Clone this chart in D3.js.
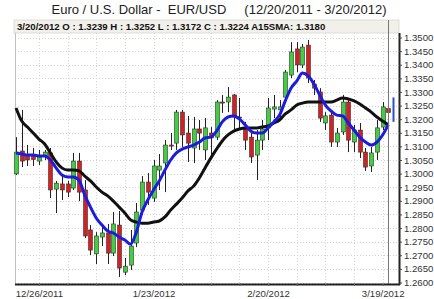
<!DOCTYPE html>
<html>
<head>
<meta charset="utf-8">
<script src="https://cdn.jsdelivr.net/npm/d3@7"></script>
<style>
    body { margin: 0; background: #fff; }
    svg { display: block; font-family: "Liberation Sans", Arial, sans-serif; }
</style>
</head>
<body>
<svg id="chart" width="434" height="299"></svg>
<script>
// --- Data ---
const dates = [
    "12/20/2011", "12/21/2011", "12/22/2011", "12/23/2011", "12/26/2011", "12/27/2011", "12/28/2011", "12/29/2011", "12/30/2011",
    "1/2/2012", "1/3/2012", "1/4/2012", "1/5/2012", "1/6/2012", "1/9/2012", "1/10/2012", "1/11/2012", "1/12/2012", "1/13/2012",
    "1/16/2012", "1/17/2012", "1/18/2012", "1/19/2012", "1/20/2012", "1/23/2012", "1/24/2012", "1/25/2012", "1/26/2012", "1/27/2012",
    "1/30/2012", "1/31/2012", "2/1/2012", "2/2/2012", "2/3/2012", "2/6/2012", "2/7/2012", "2/8/2012", "2/9/2012", "2/10/2012",
    "2/13/2012", "2/14/2012", "2/15/2012", "2/16/2012", "2/17/2012", "2/20/2012", "2/21/2012", "2/22/2012", "2/23/2012", "2/24/2012",
    "2/27/2012", "2/28/2012", "2/29/2012", "3/1/2012", "3/2/2012", "3/5/2012", "3/6/2012", "3/7/2012", "3/8/2012", "3/9/2012",
    "3/12/2012", "3/13/2012", "3/14/2012", "3/15/2012", "3/16/2012", "3/19/2012", "3/20/2012"
];

const opens = [
    1.2999, 1.3083, 1.3068, 1.3066, 1.3046, 1.3065, 1.3076, 1.2943, 1.2962,
    1.2962, 1.2947, 1.3046, 1.2940, 1.2793, 1.2705, 1.2767, 1.2782, 1.2708, 1.2811,
    1.2638, 1.2664, 1.2745, 1.2866, 1.2969, 1.2910, 1.3013, 1.3039, 1.3105, 1.3112,
    1.3226, 1.3149, 1.3094, 1.3164, 1.3087, 1.3149, 1.3134, 1.3263, 1.3263, 1.3289,
    1.3208, 1.3164, 1.3134, 1.3068, 1.3123, 1.3168, 1.3237, 1.3234, 1.3281, 1.3362,
    1.3458, 1.3399, 1.3472, 1.3329, 1.3300, 1.3186, 1.3215, 1.3116, 1.3153, 1.3263,
    1.3116, 1.3160, 1.3079, 1.3028, 1.3079, 1.3171, 1.3239
];
const highs = [
    1.3134, 1.3234, 1.3105, 1.3094, 1.3087, 1.3087, 1.3094, 1.2973, 1.2991,
    1.2973, 1.3076, 1.3076, 1.2976, 1.2811, 1.2785, 1.2815, 1.2815, 1.2859, 1.2863,
    1.2690, 1.2793, 1.2892, 1.2991, 1.3002, 1.3050, 1.3072, 1.3123, 1.3149, 1.3234,
    1.3234, 1.3212, 1.3208, 1.3197, 1.3204, 1.3171, 1.3270, 1.3289, 1.3318, 1.3292,
    1.3278, 1.3190, 1.3149, 1.3160, 1.3197, 1.3278, 1.3289, 1.3270, 1.3381, 1.3483,
    1.3483, 1.3476, 1.3491, 1.3344, 1.3314, 1.3226, 1.3223, 1.3168, 1.3289, 1.3270,
    1.3179, 1.3186, 1.3094, 1.3098, 1.3197, 1.3263, 1.3252
];
const lows = [
    1.2995, 1.3024, 1.3028, 1.3028, 1.3032, 1.3050, 1.2910, 1.2855, 1.2903,
    1.2914, 1.2940, 1.2899, 1.2763, 1.2701, 1.2668, 1.2734, 1.2668, 1.2697, 1.2620,
    1.2627, 1.2646, 1.2730, 1.2848, 1.2885, 1.2896, 1.2940, 1.2932, 1.3087, 1.3087,
    1.3098, 1.3043, 1.3039, 1.3087, 1.3050, 1.3068, 1.3123, 1.3223, 1.3226, 1.3160,
    1.3160, 1.3087, 1.3039, 1.2976, 1.3087, 1.3123, 1.3204, 1.3208, 1.3259, 1.3351,
    1.3373, 1.3388, 1.3333, 1.3289, 1.3190, 1.3160, 1.3098, 1.3098, 1.3142, 1.3079,
    1.3079, 1.3057, 1.3010, 1.3006, 1.3050, 1.3160, 1.3172
];
const closes = [
    1.3079, 1.3046, 1.3050, 1.3052, 1.3061, 1.3079, 1.2940, 1.2965, 1.2940,
    1.2932, 1.3046, 1.2932, 1.2771, 1.2719, 1.2771, 1.2782, 1.2708, 1.2815, 1.2653,
    1.2660, 1.2734, 1.2859, 1.2969, 1.2932, 1.3028, 1.3028, 1.3105, 1.3101, 1.3226,
    1.3142, 1.3112, 1.3164, 1.3149, 1.3168, 1.3131, 1.3263, 1.3259, 1.3281, 1.3208,
    1.3204, 1.3123, 1.3061, 1.3123, 1.3164, 1.3241, 1.3245, 1.3245, 1.3373, 1.3447,
    1.3399, 1.3465, 1.3351, 1.3314, 1.3204, 1.3212, 1.3116, 1.3149, 1.3263, 1.3123,
    1.3160, 1.3079, 1.3024, 1.3076, 1.3168, 1.3245, 1.3224
];

// 15-day simple moving average (blue)
const sma15 = [
    1.3076, 1.3072, 1.3068, 1.3068, 1.3065, 1.3065, 1.3050, 1.3021, 1.2995,
    1.2988, 1.2988, 1.2976, 1.2921, 1.2877, 1.2837, 1.2811, 1.2789, 1.2782, 1.2767,
    1.2756, 1.2741, 1.2785, 1.2859, 1.2903, 1.2940, 1.2973, 1.3013, 1.3050, 1.3076,
    1.3090, 1.3098, 1.3105, 1.3116, 1.3131, 1.3134, 1.3156, 1.3190, 1.3208, 1.3212,
    1.3201, 1.3179, 1.3156, 1.3149, 1.3149, 1.3168, 1.3190, 1.3215, 1.3267, 1.3314,
    1.3340, 1.3370, 1.3359, 1.3329, 1.3289, 1.3252, 1.3230, 1.3215, 1.3212, 1.3186,
    1.3160, 1.3134, 1.3116, 1.3105, 1.3116, 1.3142, 1.3180
];
// longer moving average (black)
const smaLong = [
    1.3241, 1.3193, 1.3171, 1.3149, 1.3127, 1.3109, 1.3076, 1.3043, 1.3021,
    1.3013, 1.3013, 1.3010, 1.2991, 1.2973, 1.2951, 1.2932, 1.2918, 1.2899, 1.2877,
    1.2855, 1.2830, 1.2822, 1.2818, 1.2818, 1.2822, 1.2826, 1.2841, 1.2866, 1.2888,
    1.2910, 1.2936, 1.2954, 1.2984, 1.3021, 1.3057, 1.3090, 1.3120, 1.3142, 1.3156,
    1.3164, 1.3168, 1.3168, 1.3168, 1.3171, 1.3175, 1.3186, 1.3197, 1.3219, 1.3234,
    1.3252, 1.3259, 1.3263, 1.3263, 1.3263, 1.3263, 1.3263, 1.3270, 1.3278, 1.3274,
    1.3267, 1.3256, 1.3241, 1.3226, 1.3208, 1.3193, 1.3179
];

// blue marker to the right of the last bar
const markerRange = [1.3280, 1.3190];

const yTicks = [1.26, 1.265, 1.27, 1.275, 1.28, 1.285, 1.29, 1.295, 1.30, 1.305, 1.31,
    1.315, 1.32, 1.325, 1.33, 1.335, 1.34, 1.345, 1.35];
const weekTicks = ["12/26/2011", "1/2/2012", "1/9/2012", "1/16/2012", "1/23/2012", "1/30/2012", "2/6/2012",
    "2/13/2012", "2/20/2012", "2/27/2012", "3/5/2012", "3/12/2012", "3/19/2012"];
const xLabels = ["12/26/2011", "1/23/2012", "2/20/2012", "3/19/2012"];

const title = "Euro / U.S. Dollar -  EUR/USD     (12/20/2011 - 3/20/2012)";
const last = dates.length - 1;
const header = `${dates[last]} O : ${opens[last].toFixed(4)} H : ${highs[last].toFixed(4)} L : ${lows[last].toFixed(4)} C : ${closes[last].toFixed(4)} A15SMA: ${sma15[last].toFixed(4)}`;

// --- Layout ---
const plotLeft = 15, plotRight = 399, plotTop = 33, plotBottom = 284;

const svg = d3.select("#chart");

const x = d3.scalePoint()
    .domain(dates)
    .range([16, 388.4]);

const y = d3.scaleLinear()
    .domain([1.26, 1.35])
    .range([282.5, 37.5]);

// --- Title ---
svg.append("text")
    .attr("x", 219)
    .attr("y", 14)
    .attr("text-anchor", "middle")
    .attr("font-size", 13)
    .attr("fill", "#222")
    .style("white-space", "pre")
    .text(title);

// --- Header bar ---
svg.append("rect")
    .attr("x", plotLeft - 1)
    .attr("y", 20)
    .attr("width", plotRight - plotLeft + 1)
    .attr("height", 13)
    .attr("fill", "#f1f0ea")
    .attr("stroke", "#d8d8d0")
    .attr("stroke-width", 0.8);

svg.append("text")
    .attr("x", 17)
    .attr("y", 30)
    .attr("font-size", 9.6)
    .attr("font-weight", "bold")
    .attr("fill", "#111")
    .text(header);

// --- Grid ---
svg.append("g")
    .selectAll("line")
    .data(yTicks)
    .join("line")
    .attr("x1", plotLeft)
    .attr("x2", plotRight)
    .attr("y1", d => Math.round(y(d)) + 0.5)
    .attr("y2", d => Math.round(y(d)) + 0.5)
    .attr("stroke", "#cfcfcf")
    .attr("stroke-width", 1)
    .attr("stroke-dasharray", "1,2");

svg.append("g")
    .selectAll("line")
    .data(weekTicks)
    .join("line")
    .attr("x1", d => Math.round(x(d)) + 0.5)
    .attr("x2", d => Math.round(x(d)) + 0.5)
    .attr("y1", plotTop)
    .attr("y2", plotBottom)
    .attr("stroke", "#d6d6d6")
    .attr("stroke-width", 1)
    .attr("stroke-dasharray", "1,2");

// left edge
svg.append("line")
    .attr("x1", plotLeft + 0.5).attr("x2", plotLeft + 0.5)
    .attr("y1", plotTop).attr("y2", plotBottom)
    .attr("stroke", "#c0c0c0");

// --- Candles ---
const candles = svg.append("g")
    .selectAll("g")
    .data(dates.map((d, i) => ({ date: d, o: opens[i], h: highs[i], l: lows[i], c: closes[i] })))
    .join("g");

candles.append("line")
    .attr("x1", d => Math.round(x(d.date)) + 0.5)
    .attr("x2", d => Math.round(x(d.date)) + 0.5)
    .attr("y1", d => y(d.h))
    .attr("y2", d => y(d.l))
    .attr("stroke", "#222")
    .attr("stroke-width", 1);

candles.append("rect")
    .attr("x", d => Math.round(x(d.date)) - 1.5)
    .attr("width", 4)
    .attr("y", d => y(Math.max(d.o, d.c)))
    .attr("height", d => Math.max(1, Math.abs(y(d.o) - y(d.c))))
    .attr("fill", d => d.c >= d.o ? "#3fcf3f" : "#d42020")
    .attr("stroke", "#333")
    .attr("stroke-width", 0.6);

// --- Moving averages ---
const line = d3.line()
    .x((d, i) => x(dates[i]))
    .y(d => y(d))
    .curve(d3.curveMonotoneX);

svg.append("path")
    .datum(smaLong)
    .attr("fill", "none")
    .attr("stroke", "#111")
    .attr("stroke-width", 3)
    .attr("stroke-linejoin", "round")
    .attr("d", line);

svg.append("path")
    .datum(sma15)
    .attr("fill", "none")
    .attr("stroke", "#1c1ce0")
    .attr("stroke-width", 3)
    .attr("stroke-linejoin", "round")
    .attr("d", line);

// --- Current-day marker ---
svg.append("line")
    .attr("x1", Math.round(x(dates[last])) + 0.5)
    .attr("x2", Math.round(x(dates[last])) + 0.5)
    .attr("y1", 20)
    .attr("y2", plotBottom)
    .attr("stroke", "#777")
    .attr("stroke-width", 1);

svg.append("line")
    .attr("x1", 393.5)
    .attr("x2", 393.5)
    .attr("y1", y(markerRange[0]))
    .attr("y2", y(markerRange[1]))
    .attr("stroke", "#2a4fd0")
    .attr("stroke-width", 2);

// --- Axes ---
const yAxis = d3.axisRight(y)
    .tickValues(yTicks)
    .tickFormat(d3.format(".4f"))
    .tickSize(3)
    .tickPadding(2);

svg.append("g")
    .attr("transform", `translate(${plotRight},0)`)
    .call(yAxis)
    .call(g => g.select(".domain").attr("d", `M0.5,${plotTop}V${plotBottom + 1}`).attr("stroke", "#222").attr("stroke-width", 2))
    .call(g => g.selectAll(".tick line").attr("stroke", "#444"))
    .call(g => g.selectAll("text").attr("font-size", 9.6).attr("fill", "#333").attr("font-family", "'Liberation Sans', Arial, sans-serif"));

const xAxis = d3.axisBottom(x)
    .tickValues(weekTicks)
    .tickFormat(d => xLabels.includes(d) ? d : "")
    .tickSize(2)
    .tickPadding(4);

svg.append("g")
    .attr("transform", `translate(0,${plotBottom})`)
    .call(xAxis)
    .call(g => g.select(".domain").attr("d", `M${plotLeft},0.5H${plotRight + 1}`).attr("stroke", "#222").attr("stroke-width", 2))
    .call(g => g.selectAll(".tick line").attr("stroke", "#666"))
    .call(g => g.selectAll("text").attr("font-size", 9.6).attr("fill", "#333").attr("font-family", "'Liberation Sans', Arial, sans-serif"));
</script>
</body>
</html>
